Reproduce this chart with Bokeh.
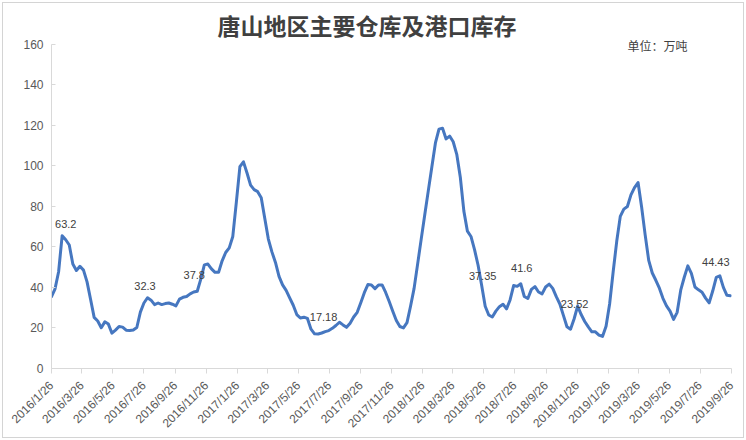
import math
import pandas as pd
from bokeh.plotting import figure
from bokeh.models import Range1d, FixedTicker, Label, ColumnDataSource, InlineStyleSheet
from bokeh.core.properties import value
from bokeh.embed import file_html
from bokeh.resources import INLINE

TITLE = "唐山地区主要仓库及港口库存"
UNIT = "单位：万吨"

START = "2016-01-26"  # weekly series
VALUES = [
    35.4, 39.3, 47.7, 65.5, 63.5, 60.9, 51.5, 48.3, 50.4, 48.5,
    42.7, 34.0, 25.2, 23.4, 20.1, 23.0, 21.9, 17.4, 18.9, 20.7,
    20.4, 18.9, 18.7, 19.0, 20.2, 27.8, 32.3, 34.9, 33.7, 31.5,
    32.3, 31.5, 32.0, 32.3, 31.7, 30.9, 34.2, 35.1, 35.5, 36.8,
    37.7, 38.1, 44.1, 51.1, 51.5, 49.1, 47.4, 47.4, 53.1, 57.2,
    59.5, 65.1, 82.0, 99.5, 101.9, 96.4, 90.4, 88.2, 87.2, 84.2,
    73.9, 63.8, 57.5, 52.3, 45.4, 41.2, 38.5, 34.8, 31.2, 26.6,
    24.9, 25.3, 24.7, 19.4, 17.1, 17.0, 17.5, 18.2, 18.7, 19.8,
    21.2, 22.8, 21.5, 20.3, 22.3, 25.4, 27.7, 32.4, 37.4, 41.4,
    41.2, 39.4, 41.2, 41.2, 37.5, 33.0, 28.2, 23.7, 20.7, 20.0,
    22.6, 30.7, 39.5, 51.6, 63.8, 75.8, 87.7, 99.5, 111.2, 118.0,
    118.5, 113.2, 114.6, 111.8, 105.6, 94.3, 77.6, 67.7, 65.1, 58.6,
    50.9, 41.0, 30.7, 26.4, 25.4, 28.3, 30.5, 31.7, 29.4, 33.8,
    40.9, 40.5, 41.8, 35.5, 34.5, 39.0, 40.4, 37.7, 36.8, 40.2,
    41.6, 39.5, 35.4, 31.8, 26.2, 20.6, 19.4, 24.4, 30.8, 26.6,
    23.2, 20.5, 18.1, 18.1, 16.5, 15.8, 20.8, 31.8, 47.7, 62.7,
    75.0, 78.6, 79.9, 85.6, 89.2, 91.7, 79.6, 65.9, 53.3, 47.1,
    43.5, 39.6, 34.6, 30.9, 28.3, 24.2, 27.7, 38.6, 45.0, 50.6,
    46.9, 40.2, 38.8, 37.6, 34.7, 32.4, 38.2, 44.9, 45.7, 40.0,
    36.1, 35.9,
]

TICK_LABELS = [
    "2016/1/26", "2016/3/26", "2016/5/26", "2016/7/26", "2016/9/26", "2016/11/26",
    "2017/1/26", "2017/3/26", "2017/5/26", "2017/7/26", "2017/9/26", "2017/11/26",
    "2018/1/26", "2018/3/26", "2018/5/26", "2018/7/26", "2018/9/26", "2018/11/26",
    "2019/1/26", "2019/3/26", "2019/5/26", "2019/7/26", "2019/9/26",
]
Y_TICKS = [0, 20, 40, 60, 80, 100, 120, 140, 160]

LABEL_TEXTS = ["63.2", "32.3", "37.8", "17.18", "37.35", "41.6", "23.52", "44.43"]
LABEL_IDX = [4, 27, 41, 74, 121, 132, 148, 188]

# ---------------------------------------------------------------
FONT = "Liberation Sans"
CJK = "Noto Sans CJK SC"

dates = pd.date_range(START, periods=len(VALUES), freq="7D")
tick_dates = pd.to_datetime(TICK_LABELS, format="%Y/%m/%d")
tick_ms = [float(d.value // 10**6) for d in tick_dates]

src = ColumnDataSource(dict(date=dates, value=VALUES))

W, H = 746, 440
B_LEFT, B_RIGHT, B_TOP, B_BOTTOM = 51, 15, 0, 72
frame_h = H - B_TOP - B_BOTTOM
top_px = 43.5  # pixel height of the 160 line from the canvas top
y_end = Y_TICKS[-1] * frame_h / (frame_h - top_px)

css = InlineStyleSheet(css="""
:host::after {
  content: ""; position: absolute; left: 2px; top: 2px; width: 740px; height: 434px;
  border: 1px solid #d4d4d4; pointer-events: none;
}
""")

p = figure(width=W, height=H, x_axis_type="datetime",
           output_backend="svg", toolbar_location=None,
           x_range=Range1d(tick_ms[0], tick_ms[-1]),
           y_range=Range1d(Y_TICKS[0], y_end),
           min_border_left=B_LEFT, min_border_right=B_RIGHT,
           min_border_top=B_TOP, min_border_bottom=B_BOTTOM,
           stylesheets=[css])
p.title.visible = False
p.outline_line_color = None
p.xgrid.visible = False
p.ygrid.visible = False
p.background_fill_color = "white"
p.border_fill_color = "white"

p.line(x="date", y="value", source=src, line_color="#4677c0",
       line_width=3, line_join="round", line_cap="round")

# x axis
xa = p.xaxis[0]
xa.ticker = FixedTicker(ticks=tick_ms)
xa.major_label_overrides = {ms: lab for ms, lab in zip(tick_ms, TICK_LABELS)}
xa.major_label_orientation = math.pi / 4
xa.axis_line_color = "#d9d9d9"
xa.major_tick_line_color = "#d9d9d9"
xa.major_tick_out = 5
xa.major_tick_in = 0
xa.minor_tick_line_color = None
xa.major_label_text_font = FONT
xa.major_label_text_font_size = "12px"
xa.major_label_text_color = "#595959"
xa.major_label_standoff = 10

# y axis
ya = p.yaxis[0]
ya.ticker = FixedTicker(ticks=Y_TICKS)
ya.bounds = (Y_TICKS[0], Y_TICKS[-1])
ya.axis_line_color = "#d9d9d9"
ya.major_tick_line_color = "#d9d9d9"
ya.major_tick_in = 4
ya.major_tick_out = 0
ya.minor_tick_line_color = None
ya.major_label_text_font = FONT
ya.major_label_text_font_size = "12px"
ya.major_label_text_color = "#595959"
ya.major_label_standoff = 8

# data labels
lab_dx = [0, -2.5, -3, 9, 1, 1, -3, -4]
lab_dy = [-16, -12, -16, -17, -9, -16, -2, -14]
lab_src = ColumnDataSource(dict(
    x=[dates[i] for i in LABEL_IDX],
    y=[VALUES[i] for i in LABEL_IDX],
    text=LABEL_TEXTS, dx=lab_dx, dy=lab_dy))
p.text(x="x", y="y", text="text", source=lab_src, x_offset="dx", y_offset="dy",
       text_font=value(FONT), text_font_size="11px", text_color="#404040",
       text_align="center", text_baseline="middle")

# title & unit note (screen units measured from the frame's lower-left corner)
p.add_layout(Label(x=366.5 - B_LEFT, y=frame_h - 24, x_units="screen", y_units="screen",
                   text=TITLE, text_font=CJK, text_font_size="23px",
                   text_font_style="bold", text_color="#404040",
                   text_align="center", text_baseline="middle"))
p.add_layout(Label(x=627 - B_LEFT, y=frame_h - 45, x_units="screen", y_units="screen",
                   text=UNIT, text_font=CJK, text_font_size="12px",
                   text_color="#404040", text_align="left", text_baseline="middle"))

open("out.html", "w").write(file_html(p, INLINE))
